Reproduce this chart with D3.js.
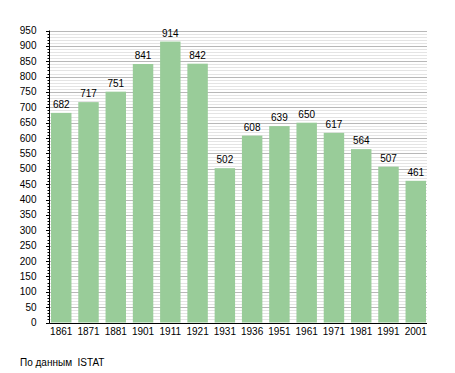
<!DOCTYPE html>
<html>
<head>
<meta charset="utf-8">
<script src="https://cdn.jsdelivr.net/npm/d3@7"></script>
<style>
  body { margin: 0; background: #fff; }
  text { font-family: "Liberation Sans", Arial, sans-serif; }
</style>
</head>
<body>
<div id="chart"></div>
<script>
var years = ["1861", "1871", "1881", "1901", "1911", "1921", "1931", "1936", "1951", "1961", "1971", "1981", "1991", "2001"];
var population = [682, 717, 751, 841, 914, 842, 502, 608, 639, 650, 617, 564, 507, 461];
var yTicks = d3.range(0, 951, 50);
var source = "По данным  ISTAT";

var w = 455;
var h = 373;

var svg = d3.select("#chart")
  .append("svg")
  .attr("width", w)
  .attr("height", h);

var xScale = d3.scaleBand()
  .domain(years)
  .range([47.6, 429.4])
  .paddingInner(0.25)
  .paddingOuter(0.125);

var yScale = d3.scaleLinear()
  .domain([0, 950])
  .range([322.5, 30.5]);

var left = 49.5;
var right = 427;

// minor grid every 10, major every 50
svg.selectAll("line.minor")
  .data(d3.range(10, 951, 10).filter(function(d) { return d % 50 != 0; }))
  .enter()
  .append("line")
  .attr("class", "minor")
  .attr("x1", left)
  .attr("x2", right)
  .attr("y1", function(d) { return Math.round(yScale(d)) + 0.5; })
  .attr("y2", function(d) { return Math.round(yScale(d)) + 0.5; })
  .attr("stroke", "#e4e4e4")
  .attr("stroke-width", 1);

svg.selectAll("line.major")
  .data(yTicks.slice(1))
  .enter()
  .append("line")
  .attr("class", "major")
  .attr("x1", left)
  .attr("x2", right)
  .attr("y1", function(d) { return Math.round(yScale(d)) + 0.5; })
  .attr("y2", function(d) { return Math.round(yScale(d)) + 0.5; })
  .attr("stroke", "#b8b8b8")
  .attr("stroke-width", 1);

svg.selectAll("rect.bar")
  .data(population)
  .enter()
  .append("rect")
  .attr("class", "bar")
  .attr("x", function(d, i) { return xScale(years[i]); })
  .attr("y", function(d) { return yScale(d); })
  .attr("width", xScale.bandwidth())
  .attr("height", function(d) { return yScale(0) - yScale(d); })
  .attr("fill", "#99cc99");

svg.selectAll("text.value")
  .data(population)
  .enter()
  .append("text")
  .attr("class", "value")
  .attr("x", function(d, i) { return xScale(years[i]) + xScale.bandwidth() / 2; })
  .attr("y", function(d) { return yScale(d) - 5; })
  .attr("text-anchor", "middle")
  .attr("font-size", 10)
  .attr("fill", "#000")
  .text(function(d) { return d; });

// y axis with minor ticks
var yAxis = svg.append("g")
  .attr("transform", "translate(" + left + ",0)");

yAxis.append("line")
  .attr("x1", 0).attr("x2", 0)
  .attr("y1", yScale(950)).attr("y2", yScale(0) + 1)
  .attr("stroke", "#000");

yAxis.selectAll("line.mtick")
  .data(d3.range(0, 951, 10))
  .enter()
  .append("line")
  .attr("class", "mtick")
  .attr("x1", function(d) { return d % 50 == 0 ? -3.5 : -2; })
  .attr("x2", 0)
  .attr("y1", function(d) { return Math.round(yScale(d)) + 0.5; })
  .attr("y2", function(d) { return Math.round(yScale(d)) + 0.5; })
  .attr("stroke", "#000");

yAxis.selectAll("text.ylabel")
  .data(yTicks)
  .enter()
  .append("text")
  .attr("class", "ylabel")
  .attr("x", -13)
  .attr("y", function(d) { return yScale(d) + 3.5; })
  .attr("text-anchor", "end")
  .attr("font-size", 10)
  .text(function(d) { return d; });

// x axis
svg.append("line")
  .attr("x1", left)
  .attr("x2", right)
  .attr("y1", 323.5)
  .attr("y2", 323.5)
  .attr("stroke", "#000");

svg.selectAll("text.xlabel")
  .data(years)
  .enter()
  .append("text")
  .attr("class", "xlabel")
  .attr("x", function(d) { return xScale(d) + xScale.bandwidth() / 2; })
  .attr("y", 334.5)
  .attr("text-anchor", "middle")
  .attr("font-size", 10)
  .text(function(d) { return d; });

svg.append("text")
  .attr("x", 20)
  .attr("y", 366)
  .attr("font-size", 10)
  .style("white-space", "pre")
  .text(source);
</script>
</body>
</html>
